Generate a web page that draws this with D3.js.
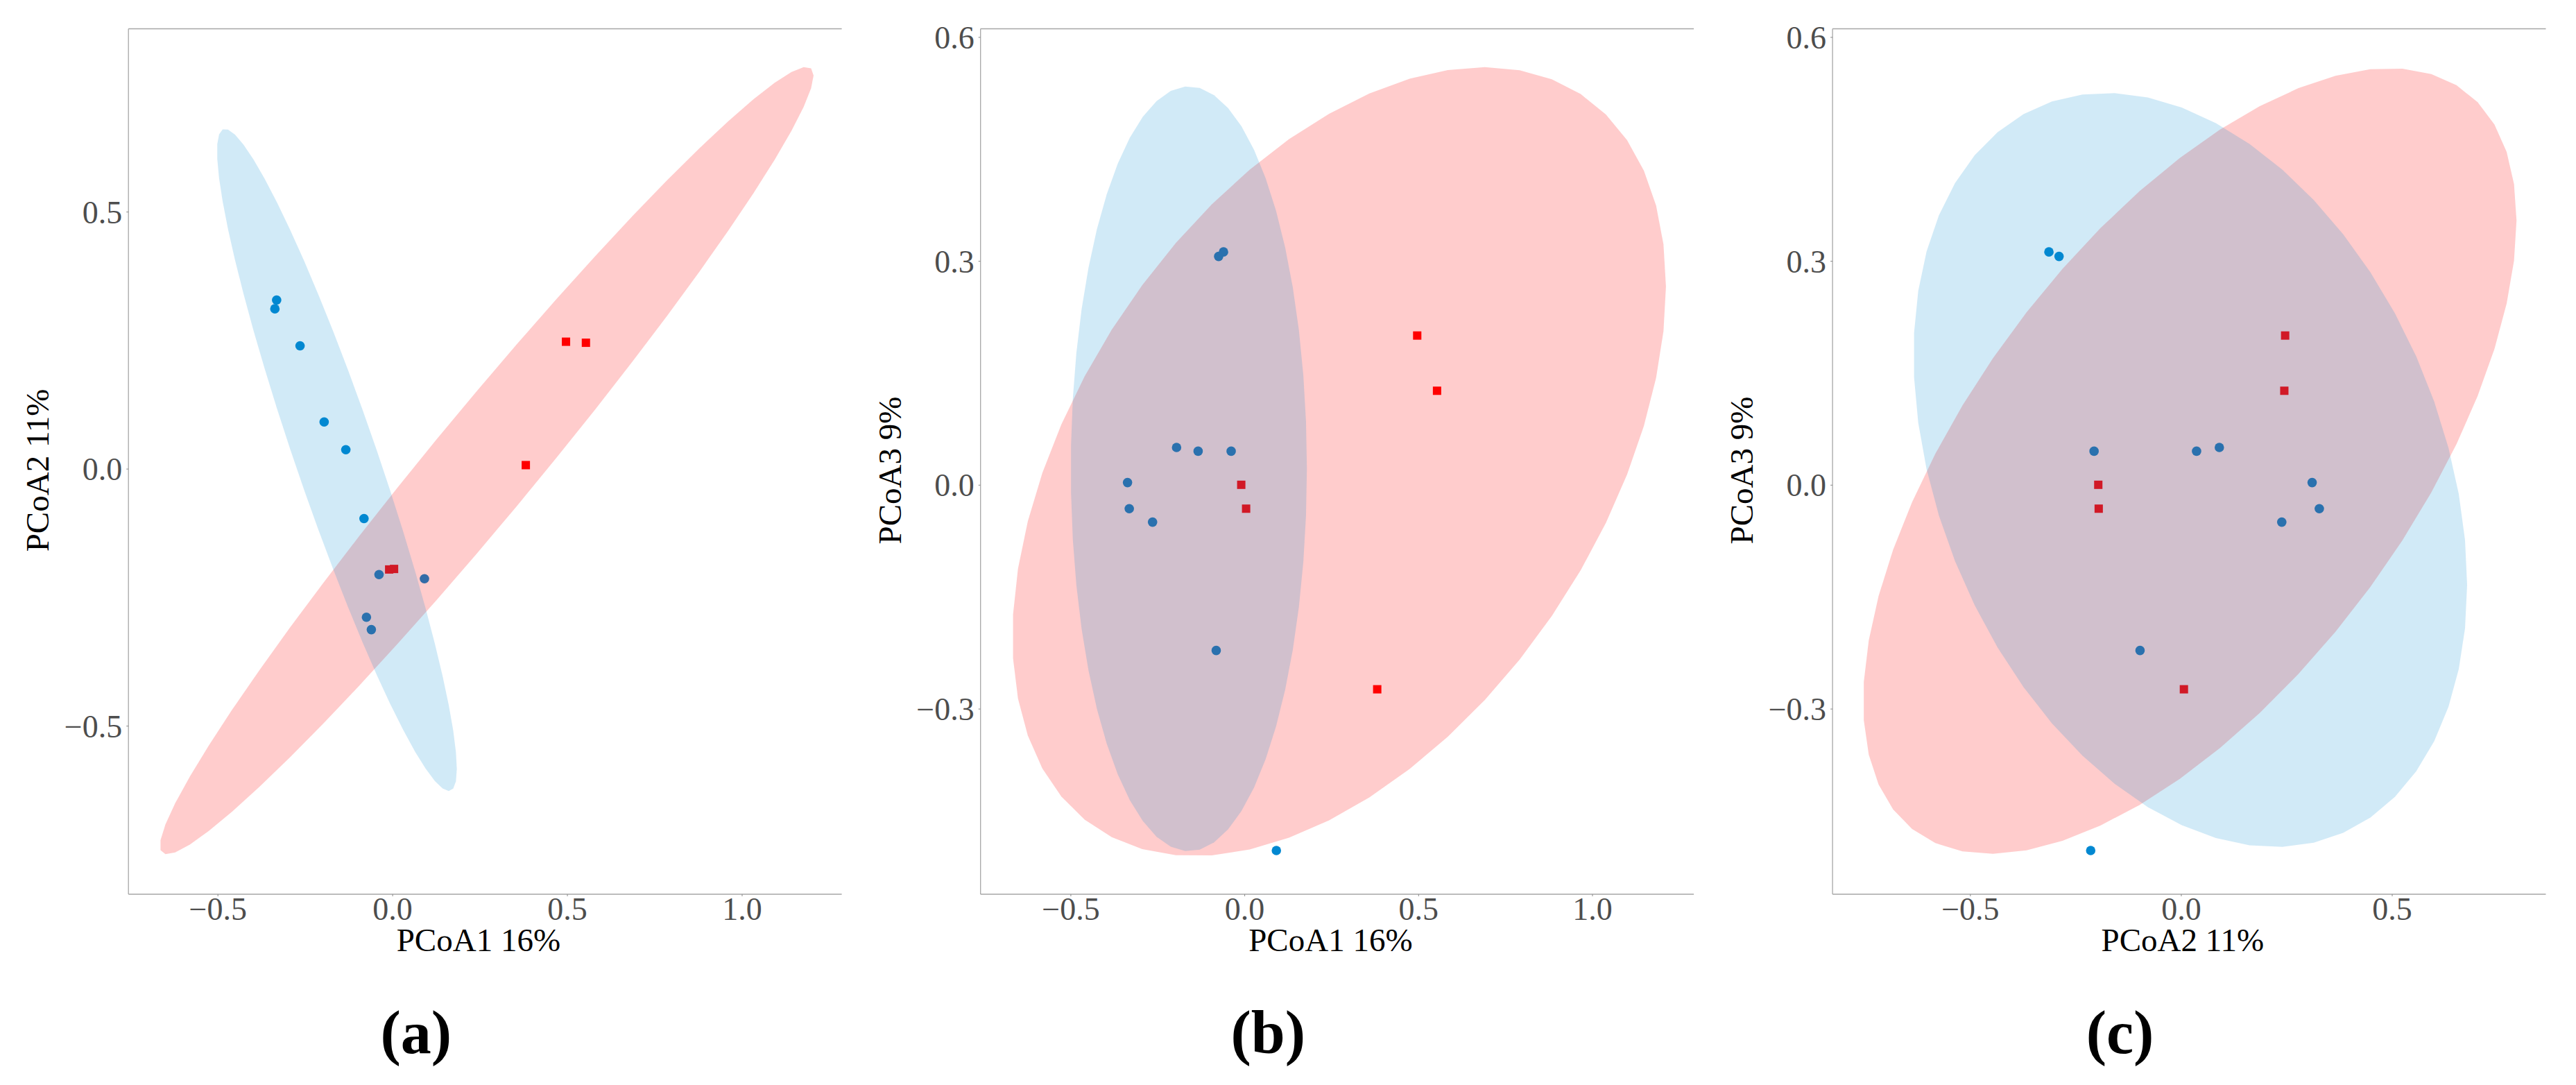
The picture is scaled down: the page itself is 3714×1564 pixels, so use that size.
<!DOCTYPE html>
<head>
  <meta charset="utf-8">
  <script src="https://d3js.org/d3.v7.min.js"></script>
  <style>
    body { margin:0; background:#fff; }
    text { font-family: "Liberation Serif", "Times New Roman", serif; }
  </style>
</head>

<body>
  <script>
  // ---------- sample scores ----------
    var blueP1 = [-0.331, -0.336, -0.264, -0.195, -0.133, -0.081, -0.038, 0.092, -0.074, -0.060];
    var blueP2 = [0.328, 0.311, 0.239, 0.091, 0.037, -0.097, -0.206, -0.214, -0.289, -0.313];
    var blueP3 = [-0.032, 0.003, -0.050, 0.050, 0.045, -0.222, 0.045, -0.490, 0.306, 0.312];

    var redP1 = [0.497, 0.554, 0.382, -0.009, 0.005];
    var redP2 = [0.247, 0.245, 0.007, -0.196, -0.195];
    var redP3 = [0.200, 0.126, -0.274, 0.000, -0.032];

    var xTicksAB = [-0.5, 0, 0.5, 1.0],
        xTicksC = [-0.5, 0, 0.5],
        yTicksA = [-0.5, 0, 0.5],
        yTicksBC = [-0.3, 0, 0.3, 0.6];

    var axisTitles = ["PCoA1 16%", "PCoA2 11%", "PCoA3 9%"];
    var panelLabels = ["(a)", "(b)", "(c)"];

    var blue = "#0288d1", red = "#ff0000";

  // ---------- svg ----------
    var svg = d3.select("body").append("svg")
      .attr("width", 3714)
      .attr("height", 1564);

    svg.append("rect").attr("width", 3714).attr("height", 1564).attr("fill", "#fff");

    var plot = { top: 41.5, bottom: 1289, width: 1028.4 };

    var panels = [
      { bx: blueP1, by: blueP2, rx: redP1, ry: redP2, xDom: [-0.755, 1.286], yDom: [-0.8277, 0.8557],
        xt: xTicksAB, yt: yTicksA, xl: axisTitles[0], yl: axisTitles[1], left: 185.2, label: panelLabels[0] },
      { bx: blueP1, by: blueP3, rx: redP1, ry: redP3, xDom: [-0.7587, 1.2924], yDom: [-0.5486, 0.611],
        xt: xTicksAB, yt: yTicksBC, xl: axisTitles[0], yl: axisTitles[2], left: 1413.7, label: panelLabels[1] },
      { bx: blueP2, by: blueP3, rx: redP2, ry: redP3, xDom: [-0.826, 0.865], yDom: [-0.5486, 0.611],
        xt: xTicksC, yt: yTicksBC, xl: axisTitles[1], yl: axisTitles[2], left: 2642.1, label: panelLabels[2] }
    ];

  // ---------- robust t covariance (like MASS::cov.trob) ----------
    function covTrob(pts) {
      var n = pts.length, p = 2, nu = 5, tol = 0.01;
      var loc = [d3.mean(pts, d => d[0]), d3.mean(pts, d => d[1])];
      var w = pts.map(() => 1), X;
      for (var iter = 0; iter < 25; iter++) {
        var w0 = w.slice();
        X = pts.map(d => [d[0] - loc[0], d[1] - loc[1]]);
        var sw = d3.sum(w);
        var a = 0, b = 0, c = 0;
        X.forEach((x, i) => { a += w[i] * x[0] * x[0]; b += w[i] * x[0] * x[1]; c += w[i] * x[1] * x[1]; });
        a /= sw; b /= sw; c /= sw;
        var det = a * c - b * b;
        w = X.map(x => (nu + p) / (nu + (c * x[0] * x[0] - 2 * b * x[0] * x[1] + a * x[1] * x[1]) / det));
        var sw2 = d3.sum(w);
        loc = [d3.sum(pts, (d, i) => w[i] * d[0]) / sw2, d3.sum(pts, (d, i) => w[i] * d[1]) / sw2];
        if (w.every((v, i) => Math.abs(v - w0[i]) < tol)) break;
      }
      var s = [0, 0, 0];
      X.forEach((x, i) => { s[0] += w[i] * x[0] * x[0]; s[1] += w[i] * x[0] * x[1]; s[2] += w[i] * x[1] * x[1]; });
      return { center: loc, cov: s.map(v => v / n) };
    }

  // ---------- 95% ellipse, same recipe as ggplot2 stat_ellipse ----------
    function ellipsePoints(xs, ys) {
      var pts = xs.map((x, i) => [x, ys[i]]);
      var fit = covTrob(pts);
      var dfd = pts.length - 1;
      var qf = dfd / 2 * (Math.pow(0.05, -2 / dfd) - 1);
      var radius = Math.sqrt(2 * qf);
      var r11 = Math.sqrt(fit.cov[0]), r12 = fit.cov[1] / r11, r22 = Math.sqrt(fit.cov[2] - r12 * r12);
      return d3.range(52).map(k => {
        var t = k * 2 * Math.PI / 51;
        return [fit.center[0] + radius * Math.cos(t) * r11,
                fit.center[1] + radius * (Math.cos(t) * r12 + Math.sin(t) * r22)];
      });
    }

    var fmt = v => d3.format(".1f")(v).replace("-", "\u2212");

    panels.forEach(function(pn, k) {
      var x = d3.scaleLinear().domain(pn.xDom).range([pn.left, pn.left + plot.width]);
      var y = d3.scaleLinear().domain(pn.yDom).range([plot.bottom, plot.top]);
      var g = svg.append("g");

      var clipId = "clip" + k;
      svg.append("clipPath").attr("id", clipId).append("rect")
        .attr("x", pn.left).attr("y", plot.top)
        .attr("width", plot.width).attr("height", plot.bottom - plot.top);

      var body = g.append("g").attr("clip-path", "url(#" + clipId + ")");

      // points first, ellipses drawn over them
      body.selectAll(".bpt").data(pn.bx).enter().append("circle")
        .attr("cx", d => x(d))
        .attr("cy", (d, i) => y(pn.by[i]))
        .attr("r", 6.8)
        .attr("fill", blue);

      body.selectAll(".rpt").data(pn.rx).enter().append("rect")
        .attr("x", d => x(d) - 6)
        .attr("y", (d, i) => y(pn.ry[i]) - 6)
        .attr("width", 12).attr("height", 12)
        .attr("fill", red);

      var line = d3.line().x(d => x(d[0])).y(d => y(d[1]));

      body.append("path")
        .attr("d", line(ellipsePoints(pn.rx, pn.ry)))
        .attr("fill", red).attr("fill-opacity", 0.2);
      body.append("path")
        .attr("d", line(ellipsePoints(pn.bx, pn.by)))
        .attr("fill", blue).attr("fill-opacity", 0.18);

      // panel border: top, left, bottom
      var border = "#a6a6a6";
      g.append("line").attr("x1", pn.left).attr("x2", pn.left + plot.width)
        .attr("y1", plot.top).attr("y2", plot.top).attr("stroke", border).attr("stroke-width", 1.3);
      g.append("line").attr("x1", pn.left).attr("x2", pn.left + plot.width)
        .attr("y1", plot.bottom).attr("y2", plot.bottom).attr("stroke", border).attr("stroke-width", 1.3);
      g.append("line").attr("x1", pn.left).attr("x2", pn.left)
        .attr("y1", plot.top).attr("y2", plot.bottom).attr("stroke", border).attr("stroke-width", 1.3);

      // x axis
      var xa = g.append("g").attr("transform", "translate(0," + plot.bottom + ")")
        .call(d3.axisBottom(x).tickValues(pn.xt).tickFormat(fmt).tickSize(3).tickPadding(34));
      xa.select(".domain").remove();
      xa.selectAll("line").attr("stroke", "#8a8a8a");
      xa.selectAll("text").attr("font-size", 46).attr("fill", "#4d4d4d")
        .attr("font-family", "Liberation Serif").attr("dy", 0);

      // y axis
      var ya = g.append("g").attr("transform", "translate(" + pn.left + ",0)")
        .call(d3.axisLeft(y).tickValues(pn.yt).tickFormat(fmt).tickSize(3).tickPadding(6));
      ya.select(".domain").remove();
      ya.selectAll("line").attr("stroke", "#8a8a8a");
      ya.selectAll("text").attr("font-size", 46).attr("fill", "#4d4d4d")
        .attr("font-family", "Liberation Serif").attr("dy", 16);

      // axis titles
      g.append("text")
        .attr("x", pn.left + plot.width / 2 - 9.5)
        .attr("y", 1371)
        .attr("text-anchor", "middle")
        .attr("font-size", 47)
        .attr("fill", "#000")
        .text(pn.xl);

      g.append("text")
        .attr("transform", "translate(" + (pn.left - 115) + ",678) rotate(-90)")
        .attr("text-anchor", "middle")
        .attr("font-size", 47)
        .attr("fill", "#000")
        .text(pn.yl);

      // panel label
      g.append("text")
        .attr("x", pn.left + 414.5)
        .attr("y", 1518)
        .attr("text-anchor", "middle")
        .attr("font-size", 88)
        .attr("font-weight", "bold")
        .attr("fill", "#000")
        .text(pn.label);
    });
  </script>
</body>
